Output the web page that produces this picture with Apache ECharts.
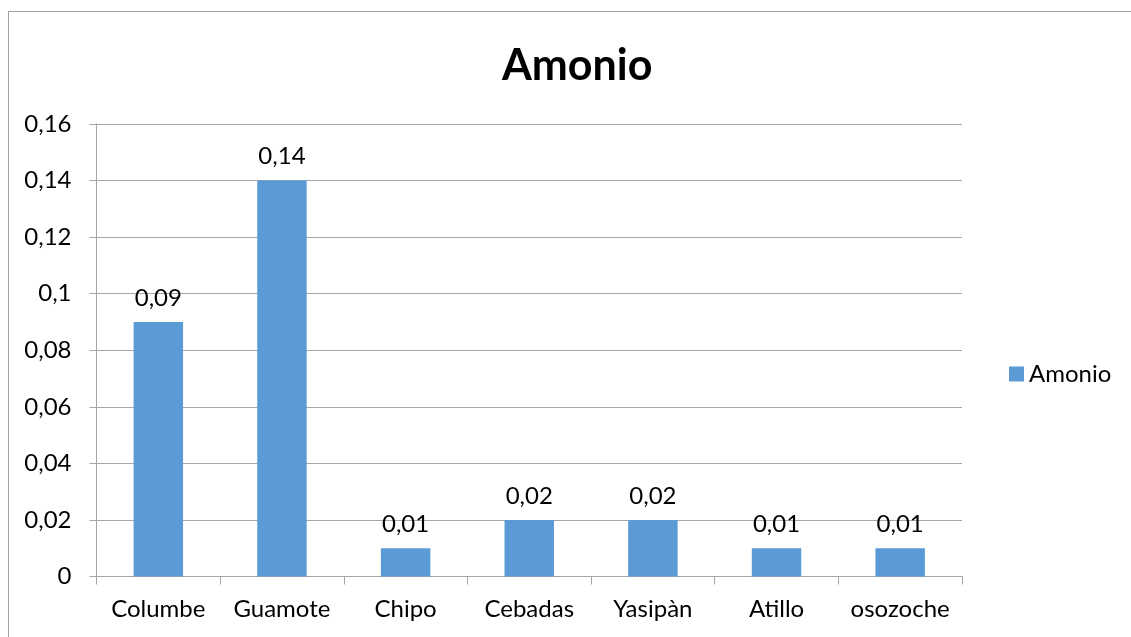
<!DOCTYPE html>
<html>
<head>
<meta charset="utf-8">
<script src="https://cdn.jsdelivr.net/npm/echarts@6/dist/echarts.min.js"></script>
<style>
html,body{margin:0;padding:0;background:#fff;overflow:hidden;}
#frame{position:absolute;left:8px;top:11px;width:1200px;height:700px;border:1.5px solid #a0a0a0;box-sizing:border-box;}
#chart{position:absolute;left:0;top:0;width:1131px;height:637px;}
</style>
</head>
<body>
<div id="frame"></div>
<div id="chart"></div>
<script>
const categories = ['Columbe','Guamote','Chipo','Cebadas','Yasipàn','Atillo','osozoche'];
const amonio = [0.09,0.14,0.01,0.02,0.02,0.01,0.01];
const seriesName = 'Amonio';
const titleText = 'Amonio';

const fmt = v => String(v).replace('.', ',');
const font = 'Lato, "Open Sans", sans-serif';
const chart = echarts.init(document.getElementById('chart'));
chart.setOption({
  backgroundColor: 'transparent',
  animation: false,
  title: {text: titleText, left: 497, top: 40, textStyle: {fontFamily: font, fontSize: 43, fontWeight: 'bold', color: '#000'}},
  legend: {data: [seriesName], orient: 'vertical', left: 1004, top: 357, itemWidth: 15, itemHeight: 15, itemGap: 8,
    icon: 'rect',
    textStyle: {fontFamily: font, fontSize: 24, color: '#000'}},
  grid: {left: 96.5, right: 169, top: 124, bottom: 60.5},
  xAxis: {type: 'category', data: categories,
    axisLine: {lineStyle: {color: '#a6a6a6', width: 1}},
    axisTick: {show: true, length: 8, lineStyle: {color: '#a6a6a6'}},
    axisLabel: {interval: 0, fontFamily: font, fontSize: 24, color: '#000', margin: 21}},
  yAxis: {type: 'value', min: 0, max: 0.16, interval: 0.02,
    axisLine: {show: true, lineStyle: {color: '#a6a6a6'}},
    axisTick: {show: true, length: 7, lineStyle: {color: '#a6a6a6'}},
    splitLine: {lineStyle: {color: '#a6a6a6'}},
    axisLabel: {fontFamily: font, fontSize: 24, color: '#000', margin: 25, formatter: v => fmt(+v.toFixed(2))}},
  series: [{name: seriesName, type: 'bar', data: amonio, barWidth: '40%',
    itemStyle: {color: '#5b9bd5'},
    label: {show: true, position: 'top', distance: 12, fontFamily: font, fontSize: 24, color: '#000', formatter: p => fmt(p.value)}}]
});
</script>
</body>
</html>
